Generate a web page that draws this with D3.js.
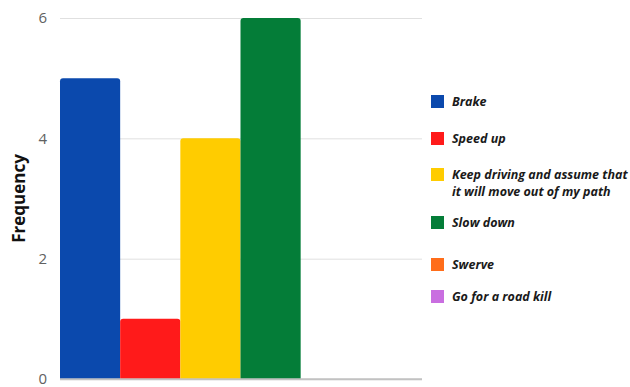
<!DOCTYPE html>
<html>
<head>
<meta charset="utf-8">
<script src="https://cdn.jsdelivr.net/npm/d3@7"></script>
<style>
  html, body { margin: 0; padding: 0; background: #fff; }
  svg { display: block; }
</style>
</head>
<body>
<svg id="chart" width="630" height="387"></svg>
<script>
// Responses and how many times each was chosen
const categories = [
  "Brake",
  "Speed up",
  "Keep driving and assume that it will move out of my path",
  "Slow down",
  "Swerve",
  "Go for a road kill"
];
const values = [5, 1, 4, 6, 0, 0];
const colors = ["#0b49ad", "#ff1a1a", "#ffcc00", "#047d38", "#ff6d1a", "#c96ee0"];
const legendLines = [
  ["Brake"],
  ["Speed up"],
  ["Keep driving and assume that", "it will move out of my path"],
  ["Slow down"],
  ["Swerve"],
  ["Go for a road kill"]
];
const legendY = [101, 138, 174, 222, 264, 296];
const yTicks = [0, 2, 4, 6];

const svg = d3.select("#chart");
const margin = { left: 60, right: 209, top: 18, bottom: 8 };
const W = 630, H = 387;

const x = d3.scaleBand()
  .domain(categories)
  .range([margin.left, W - margin.right])
  .padding(0);

const y = d3.scaleLinear()
  .domain([0, 6])
  .range([H - margin.bottom, margin.top]);

// gridlines and tick labels
const yAxis = d3.axisLeft(y).tickValues(yTicks).tickFormat(d3.format("d")).tickSize(0).tickPadding(0);
const gAxis = svg.append("g")
  .attr("transform", `translate(${margin.left},0)`)
  .call(yAxis);
gAxis.select(".domain").remove();
gAxis.selectAll(".tick text")
  .attr("x", -13)
  .attr("font-family", "'Open Sans', sans-serif")
  .attr("font-weight", 400)
  .attr("font-size", 15)
  .attr("fill", "#616161");
gAxis.selectAll(".tick line")
  .attr("x2", W - margin.right - margin.left + 1)
  .attr("stroke", (d) => d === 0 ? "#bbb" : "#e0e0e0")
  .attr("stroke-width", (d) => d === 0 ? 1.5 : 1);

// bars with slightly rounded tops
const r = 3;
function barPath(d, i) {
  const x0 = x(categories[i]);
  const w = x.bandwidth();
  const y0 = y(0);
  const y1 = y(d);
  const h = y0 - y1;
  if (h <= 0) return "";
  const rr = Math.min(r, h);
  return `M${x0},${y0}V${y1 + rr}Q${x0},${y1} ${x0 + rr},${y1}H${x0 + w - rr}Q${x0 + w},${y1} ${x0 + w},${y1 + rr}V${y0}Z`;
}
svg.append("g").selectAll("path")
  .data(values)
  .join("path")
  .attr("d", barPath)
  .attr("fill", (d, i) => colors[i]);

// redraw baseline on top of bars
svg.append("line")
  .attr("x1", margin.left).attr("x2", W - margin.right + 1)
  .attr("y1", y(0)).attr("y2", y(0))
  .attr("stroke", "#c4c4c4").attr("stroke-width", 1.5);

// axis title
svg.append("text")
  .attr("transform", `translate(25,${(y(0) + y(6)) / 2}) rotate(-90)`)
  .attr("text-anchor", "middle")
  .attr("font-family", "'Open Sans', sans-serif")
  .attr("font-weight", "bold")
  .attr("font-size", 17)
  .attr("fill", "#111")
  .text("Frequency");

// legend
const lg = svg.append("g");
categories.forEach((c, i) => {
  const cy = legendY[i];
  lg.append("rect")
    .attr("x", 431).attr("y", cy - 6)
    .attr("width", 13).attr("height", 13)
    .attr("fill", colors[i]);
  const t = lg.append("text")
    .attr("x", 452)
    .attr("font-family", "'Open Sans', sans-serif")
    .attr("font-weight", "bold")
    .attr("font-style", "italic")
    .attr("font-size", 12.5)
    .attr("fill", "#1a1a1a");
  legendLines[i].forEach((ln, j) => {
    t.append("tspan")
      .attr("x", 452)
      .attr("y", cy + 4.5 + j * 17.5)
      .text(ln);
  });
});
</script>
</body>
</html>
